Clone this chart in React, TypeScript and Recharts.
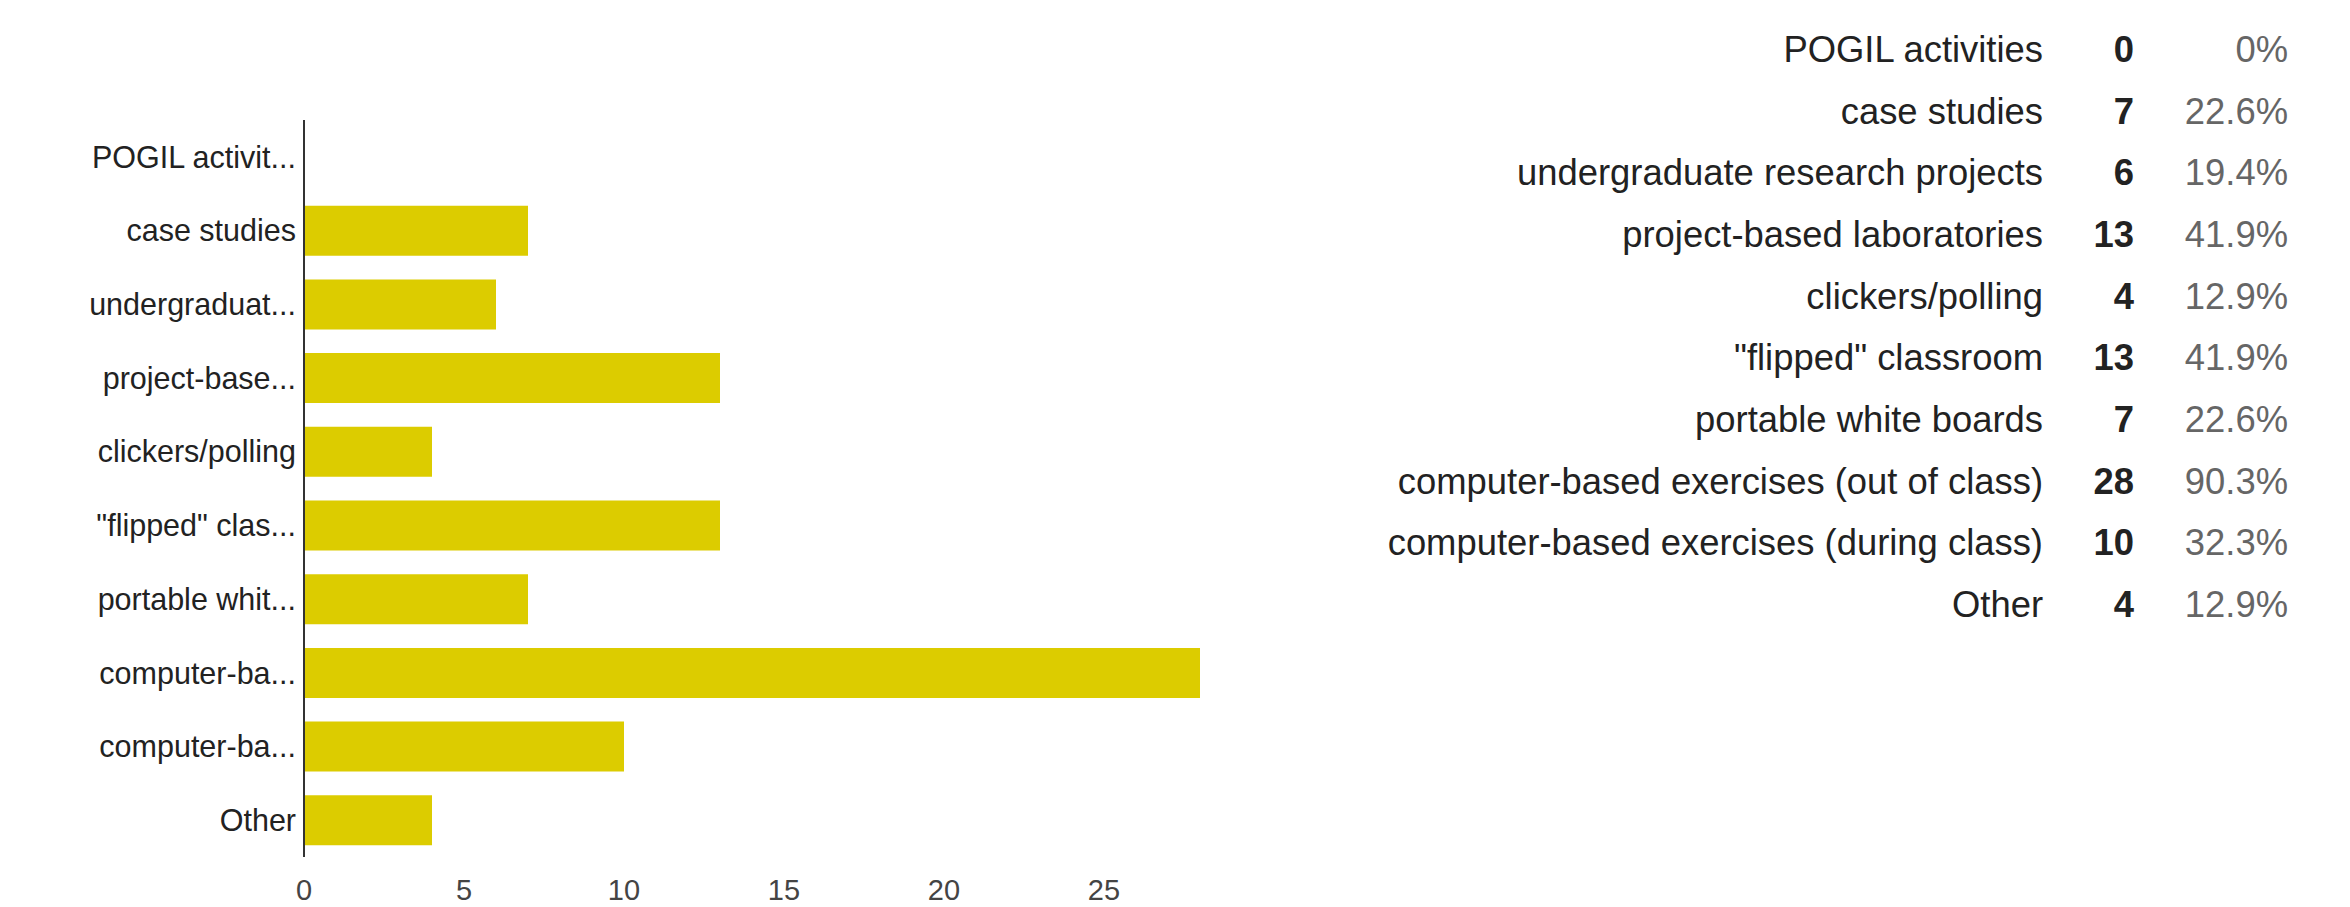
import { BarChart, Bar, XAxis, YAxis } from 'recharts';

const categories = [
  'POGIL activities',
  'case studies',
  'undergraduate research projects',
  'project-based laboratories',
  'clickers/polling',
  '"flipped" classroom',
  'portable white boards',
  'computer-based exercises (out of class)',
  'computer-based exercises (during class)',
  'Other',
];
const shortLabels = [
  'POGIL activit...',
  'case studies',
  'undergraduat...',
  'project-base...',
  'clickers/polling',
  '"flipped" clas...',
  'portable whit...',
  'computer-ba...',
  'computer-ba...',
  'Other',
];
const counts = [0, 7, 6, 13, 4, 13, 7, 28, 10, 4];
const percents = ['0%', '22.6%', '19.4%', '41.9%', '12.9%', '41.9%', '22.6%', '90.3%', '32.3%', '12.9%'];
const xTicks = [0, 5, 10, 15, 20, 25];

const FONT = 'Arial, "Liberation Sans", sans-serif';

export default function App() {
  const data = categories.map((name, i) => ({ name, count: counts[i] }));

  return (
    <div style={{ position: 'absolute', left: 0, top: 0, width: 2350, height: 907, background: '#fff', fontFamily: FONT }}>
      <div style={{ position: 'absolute', left: 0, top: 0 }}>
        <BarChart
          width={1250}
          height={907}
          layout="vertical"
          data={data}
          margin={{ top: 120, right: 50, bottom: 0, left: 0 }}
        >
          <XAxis
            type="number"
            domain={[0, 28]}
            ticks={xTicks}
            axisLine={false}
            tickLine={false}
            tickMargin={16}
            height={50}
            tick={{ fontSize: 29, fill: '#444', fontFamily: FONT }}
          />
          <YAxis
            type="category"
            dataKey="name"
            width={304}
            axisLine={{ stroke: '#333', strokeWidth: 2 }}
            tickLine={false}
            tickMargin={2}
            interval={0}
            tickFormatter={(_v: string, i: number) => shortLabels[i]}
            tick={{ fontSize: 30.5, fill: '#222', fontFamily: FONT }}
          />
          <Bar dataKey="count" fill="#dccc00" barSize={50} isAnimationActive={false} />
        </BarChart>
      </div>

      <div style={{ position: 'absolute', left: 1300, top: 19 }}>
        {categories.map((c, i) => (
          <div key={c} style={{ display: 'flex', height: 61.7, alignItems: 'center', fontSize: 36.4 }}>
            <div style={{ width: 743, textAlign: 'right', color: '#222' }}>{c}</div>
            <div style={{ width: 91, textAlign: 'right', color: '#222', fontWeight: 'bold' }}>{counts[i]}</div>
            <div style={{ width: 154, textAlign: 'right', color: '#666' }}>{percents[i]}</div>
          </div>
        ))}
      </div>
    </div>
  );
}
